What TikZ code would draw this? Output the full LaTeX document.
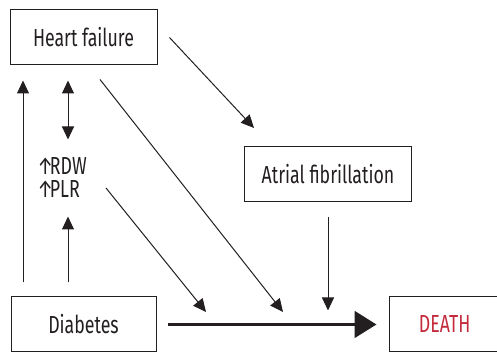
\documentclass[tikz,border=0pt]{standalone}
\usepackage{fontspec}
\setsansfont{Fira Sans}[FakeStretch=0.72]
\usetikzlibrary{arrows.meta, positioning, calc}
\definecolor{ink}{HTML}{231F20}
\definecolor{deathred}{HTML}{C42A3C}

\begin{document}
\begin{tikzpicture}[
    x=0.75pt, y=-0.75pt,
    box/.style={
        draw=ink, line width=0.75pt, inner sep=0pt,
        minimum height=41.25pt,
        font=\sffamily\fontsize{18.5}{22}\selectfont, text=ink
    },
    marker/.style={
        inner sep=0pt, font=\sffamily\fontsize{18.5}{22}\selectfont, text=ink
    },
    arrow/.style={-{Triangle[length=9.75pt, width=9pt]}, line width=0.75pt, draw=ink},
    darrow/.style={{Triangle[length=9.75pt, width=9pt]}-{Triangle[length=9.75pt, width=9pt]},
        line width=0.75pt, draw=ink},
    bigarrow/.style={-{Triangle[length=16.5pt, width=20pt]}, line width=2.25pt, draw=ink}
]
\useasboundingbox (0,0) rectangle (497,352);

% === Boxes ===
\node[box, minimum width=110.25pt] (hf) at (83.5,37.5) {Heart failure};
\node[box, minimum width=125.25pt] (af) at (328,174.5) {Atrial fibrillation};
\node[box, minimum width=108.75pt] (dia) at (83.5,324.5) {Diabetes};
\node[box, minimum width=90pt, text=deathred] (death) at (449,324.5) {DEATH\hspace*{6.5pt}};

% Markers
\node[marker, anchor=west] (rdw) at (37,166) {↑\kern-2.5pt RDW};
\node[marker, anchor=west] (plr) at (37,189) {↑\kern-2.5pt PLR};

% Arrow ends
\coordinate (afin) at (254,128);
\coordinate (hfend) at (283,312);
\coordinate (plrout) at (106,188);
\coordinate (plrend) at (206,312);

% === Arrows ===
\draw[arrow] ($(hf.east)+(12,0)$) -- (afin);
\draw[arrow] ($(hf.south)+(16.5,14)$) -- (hfend);
\draw[darrow] ($(hf.south)+(-15.5,15)$) -- ($(hf.south)+(-15.5,74)$);

\draw[arrow] ($(dia.north)+(-60.5,-14)$) -- ($(hf.south)+(-60.5,15)$);
\draw[arrow] ($(dia.north)+(-15.5,-14)$) -- ($(dia.north)+(-15.5,-80)$);

\draw[arrow] (plrout) -- (plrend);
\draw[arrow] ($(af.south)+(0,15)$) -- ($(af.south)+(0,108)$);

% Diabetes -> DEATH
\draw[bigarrow] ($(dia.east)+(11,0)$) -- ($(death.west)+(-12,0)$);

\end{tikzpicture}
\end{document}
